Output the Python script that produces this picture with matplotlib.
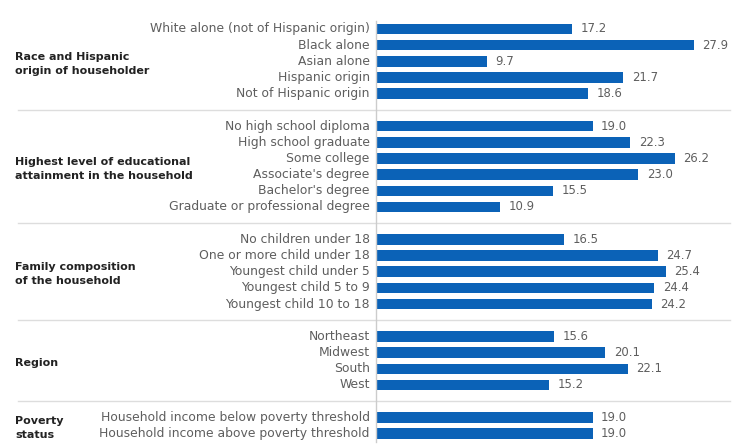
import matplotlib
matplotlib.use("Agg")
import matplotlib.pyplot as plt
from matplotlib.transforms import blended_transform_factory

# groups of the chart, top to bottom
group_titles = [
    "Race and Hispanic\norigin of householder",
    "Highest level of educational\nattainment in the household",
    "Family composition\nof the household",
    "Region",
    "Poverty\nstatus",
]
group_labels = [
    ["White alone (not of Hispanic origin)", "Black alone", "Asian alone",
     "Hispanic origin", "Not of Hispanic origin"],
    ["No high school diploma", "High school graduate", "Some college",
     "Associate's degree", "Bachelor's degree", "Graduate or professional degree"],
    ["No children under 18", "One or more child under 18", "Youngest child under 5",
     "Youngest child 5 to 9", "Youngest child 10 to 18"],
    ["Northeast", "Midwest", "South", "West"],
    ["Household income below poverty threshold",
     "Household income above poverty threshold"],
]
group_values = [
    [17.2, 27.9, 9.7, 21.7, 18.6],
    [19.0, 22.3, 26.2, 23.0, 15.5, 10.9],
    [16.5, 24.7, 25.4, 24.4, 24.2],
    [15.6, 20.1, 22.1, 15.2],
    [19.0, 19.0],
]

bar_color = "#0b62b7"
label_color = "#5e5e5e"
title_color = "#222222"
rule_color = "#dddddd"

fig = plt.figure(figsize=(7.38, 4.45), dpi=100)
ax = fig.add_axes([376 / 738, 1 - 441.6 / 445, (730 - 376) / 738, (441.6 - 20.9) / 445])

trans = blended_transform_factory(fig.transFigure, ax.transData)

row = 0
for gi, (title, labels, values) in enumerate(zip(group_titles, group_labels, group_values)):
    ys = list(range(row, row + len(values)))
    ax.barh(ys, values, height=0.65, color=bar_color)
    for y, lab, v in zip(ys, labels, values):
        ax.text(-0.55, y, lab, ha="right", va="center", fontsize=8.9,
                color=label_color)
        ax.text(v + 0.75, y, f"{v:.1f}", ha="left", va="center", fontsize=8.4,
                color=label_color)
    ax.text(0.021, (ys[0] + ys[-1]) / 2 + 0.15, title, ha="left", va="center",
            fontsize=8, fontweight="bold", color=title_color,
            linespacing=1.45, transform=trans)
    row += len(values)
    if gi < len(group_titles) - 1:
        ax.plot([18 / 738, 730 / 738], [row, row], color=rule_color, lw=1,
                transform=trans, clip_on=False)
        row += 1

ax.set_xlim(0, 354 / 11.4)
ax.set_ylim(row - 0.5, -0.5)
for s in ["top", "right", "bottom"]:
    ax.spines[s].set_visible(False)
ax.spines["left"].set_color("#cccccc")
ax.spines["left"].set_linewidth(1)
ax.set_xticks([])
ax.set_yticks([])

fig.savefig("out.png", dpi=100, facecolor="white")
